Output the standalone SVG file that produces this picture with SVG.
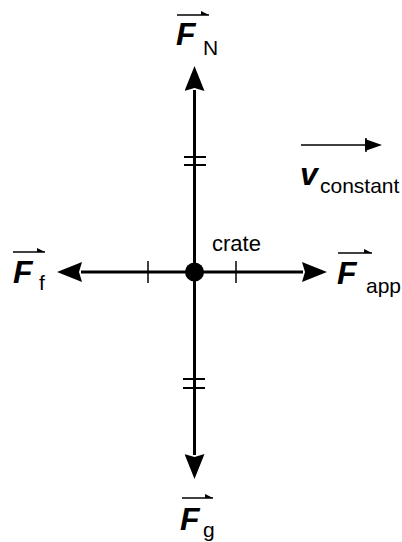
<svg xmlns="http://www.w3.org/2000/svg" width="402" height="542" viewBox="0 0 402 542">
<style>
.F{font-family:"Liberation Sans",Arial,sans-serif;font-weight:bold;font-style:italic;font-size:32px;fill:#000}
.sub{font-family:"Liberation Sans",Arial,sans-serif;font-size:21px;fill:#000}
.lbl{font-family:"Liberation Sans",Arial,sans-serif;font-size:22px;fill:#000}
.ax{stroke:#000;stroke-width:3;fill:none}
.tick{stroke:#000;stroke-width:2;fill:none}
.thin{stroke:#000;stroke-width:1.5;fill:none}
.vec{stroke:#000;stroke-width:1.5;fill:none}
</style>
<defs>
<marker id="head" markerUnits="userSpaceOnUse" viewBox="0 0 25 20" refX="1" refY="10" markerWidth="25" markerHeight="20" orient="auto">
<path d="M0,0 L25,10 L0,20 L3,10 Z" fill="#000"/>
</marker>
<marker id="small" markerUnits="userSpaceOnUse" viewBox="0 0 17 14" refX="1" refY="7" markerWidth="17" markerHeight="14" orient="auto">
<path d="M0,1 L17,7 L0,13 Z" fill="#000"/>
</marker>
</defs>
<g id="connectors">
<line class="ax" x1="194.5" y1="272" x2="194.5" y2="90" marker-end="url(#head)"/>
<line class="ax" x1="194.5" y1="272" x2="194.5" y2="455" marker-end="url(#head)"/>
<line class="ax" x1="194.5" y1="272" x2="81" y2="272" marker-end="url(#head)"/>
<line class="ax" x1="194.5" y1="272" x2="303" y2="272" marker-end="url(#head)"/>
<line class="tick" x1="184" y1="157" x2="206" y2="157"/>
<line class="tick" x1="184" y1="165" x2="206" y2="165"/>
<line class="tick" x1="183" y1="379" x2="205" y2="379"/>
<line class="tick" x1="183" y1="388" x2="205" y2="388"/>
<line class="thin" x1="148" y1="261" x2="148" y2="283"/>
<line class="thin" x1="236" y1="261" x2="236" y2="283"/>
</g>
<g id="crate">
<circle cx="194.5" cy="272" r="9.5" fill="#000"/>
<text class="lbl" x="212" y="251">crate</text>
</g>
<g id="F_N">
<line class="vec" x1="177" y1="15" x2="209" y2="15"/>
<path d="M201,11 L209,15 L201,15 Z" fill="#000"/>
<text class="F" x="176" y="45">F</text>
<text class="sub" x="203" y="55">N</text>
</g>
<g id="F_f">
<line class="vec" x1="13" y1="252" x2="45" y2="252"/>
<path d="M37,248 L45,252 L37,252 Z" fill="#000"/>
<text class="F" x="13" y="283">F</text>
<text class="sub" x="39" y="290">f</text>
</g>
<g id="F_app">
<line class="vec" x1="338" y1="253" x2="372" y2="253"/>
<path d="M364,249 L372,253 L364,253 Z" fill="#000"/>
<text class="F" x="337" y="284">F</text>
<text class="sub" x="366" y="293">app</text>
</g>
<g id="F_g">
<line class="vec" x1="182" y1="498" x2="213" y2="498"/>
<path d="M205,494 L213,498 L205,498 Z" fill="#000"/>
<text class="F" x="180" y="530">F</text>
<text class="sub" x="203" y="537">g</text>
</g>
<g id="v_constant">
<line class="vec" x1="301" y1="145" x2="366" y2="145" marker-end="url(#small)"/>
<line class="thin" x1="366" y1="138" x2="366" y2="152"/>
<text class="F" x="300" y="185">v</text>
<text class="sub" x="320" y="193">constant</text>
</g>
</svg>
